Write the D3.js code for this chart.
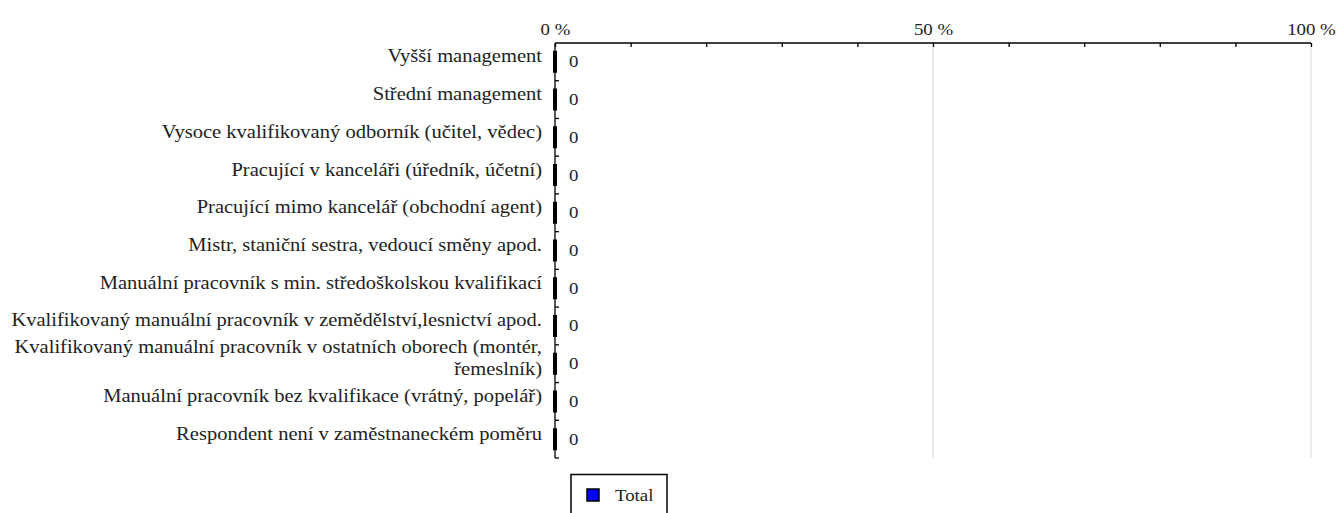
<!DOCTYPE html>
<html>
<head>
<meta charset="utf-8">
<script src="https://cdn.jsdelivr.net/npm/d3@7"></script>
<style>
  html, body { margin: 0; padding: 0; background: #fff; }
  svg { display: block; }
  text { font-family: "Liberation Serif", "DejaVu Serif", serif; fill: #222; }
</style>
</head>
<body>
<svg id="chart" width="1336" height="513"></svg>
<script>
const categories = [
  "Vyšší management",
  "Střední management",
  "Vysoce kvalifikovaný odborník (učitel, vědec)",
  "Pracující v kanceláři (úředník, účetní)",
  "Pracující mimo kancelář (obchodní agent)",
  "Mistr, staniční sestra, vedoucí směny apod.",
  "Manuální pracovník s min. středoškolskou kvalifikací",
  "Kvalifikovaný manuální pracovník v zemědělství,lesnictví apod.",
  "Kvalifikovaný manuální pracovník v ostatních oborech (montér,|řemeslník)",
  "Manuální pracovník bez kvalifikace (vrátný, popelář)",
  "Respondent není v zaměstnaneckém poměru"
];
const seriesName = "Total";
const totalValues = [0, 0, 0, 0, 0, 0, 0, 0, 0, 0, 0];
const xTickValues = [0, 10, 20, 30, 40, 50, 60, 70, 80, 90, 100];
const xTickLabels = ["0 %", "", "", "", "", "50 %", "", "", "", "", "100 %"];
const gridValues = [50, 100];

(function () {
const svg = d3.select("#chart");
const pL = 555, pR = 1311, pT = 43, pB = 458;

const x = d3.scaleLinear().domain([0, 100]).range([pL, pR]);
const y = d3.scaleBand().domain(categories).range([pT, pB]).paddingInner(0).paddingOuter(0);

const fs = 18;
const fsSmall = 16.5;
// horizontal scale so that the longest label spans ~531px
const probe = svg.append("text").attr("font-size", fs).text(categories[7]);
const w = probe.node().getComputedTextLength();
probe.remove();
const kx = Math.max(1, Math.min(1.2, 531 / w));

// grid
svg.append("g").selectAll("line").data(gridValues).join("line")
  .attr("x1", d => x(d)).attr("x2", d => x(d))
  .attr("y1", pT).attr("y2", pB)
  .attr("stroke", "#d9d9d9").attr("stroke-width", 1);

// top axis
const xAxis = d3.axisTop(x).tickValues(xTickValues).tickSize(-4).tickPadding(0)
  .tickFormat((d, i) => xTickLabels[i]);
const gx = svg.append("g").attr("transform", `translate(0,${pT})`).call(xAxis);
gx.select(".domain").attr("stroke", "#000").attr("stroke-width", 1.3).attr("d", `M${pL},0H${pR}`);
gx.selectAll(".tick line").attr("stroke", "#000").attr("stroke-width", 1.3);
gx.selectAll(".tick text").attr("font-family", "Liberation Serif, DejaVu Serif, serif")
  .attr("font-size", fsSmall).attr("fill", "#222").attr("y", -8)
  .attr("transform", `scale(${kx},1)`);

// left axis line and boundary ticks
const boundaries = categories.map(c => y(c)).slice(1).concat([pB]);
svg.append("line").attr("x1", pL).attr("x2", pL).attr("y1", pT).attr("y2", pB)
  .attr("stroke", "#000").attr("stroke-width", 1.3);
svg.append("g").selectAll("line").data(boundaries).join("line")
  .attr("x1", pL).attr("x2", pL + 4)
  .attr("y1", d => d).attr("y2", d => d)
  .attr("stroke", "#000").attr("stroke-width", 1.3);

// bars
const barH = 22;
svg.append("g").selectAll("path").data(totalValues).join("path")
  .attr("d", (d, i) => {
    const yc = y(categories[i]) + y.bandwidth() / 2;
    const y0 = yc - barH / 2, y1 = yc + barH / 2;
    return `M${x(0)},${y0}H${x(d)}V${y1}H${x(0)}Z`;
  })
  .attr("fill", "#0000ff").attr("stroke", "#000").attr("stroke-width", 4);

// value labels
svg.append("g").selectAll("text").data(totalValues).join("text")
  .attr("transform", (d, i) => `translate(${x(d) + 14},${y(categories[i]) + y.bandwidth() / 2 + 5.5}) scale(${kx},1)`)
  .attr("font-size", fsSmall)
  .text(d => d);

// category labels
const lineH = 22;
const lab = svg.append("g").selectAll("text").data(categories).join("text")
  .attr("text-anchor", "end")
  .attr("font-size", fs)
  .attr("transform", d => `translate(${pL - 13},${y(d) + y.bandwidth() / 2 + 0.5}) scale(${kx},1)`);
lab.each(function(d) {
  const lines = d.split("|");
  const t = d3.select(this);
  const n = lines.length;
  lines.forEach((ln, k) => {
    t.append("tspan").attr("x", 0)
      .attr("y", (k - (n - 1) / 2) * lineH)
      .text(ln);
  });
});

// legend
const lg = svg.append("g");
lg.append("rect").attr("x", 571).attr("y", 474.5).attr("width", 96).attr("height", 50)
  .attr("fill", "#fff").attr("stroke", "#000").attr("stroke-width", 1.5);
lg.append("rect").attr("x", 587).attr("y", 489).attr("width", 12).attr("height", 12)
  .attr("fill", "#0000ff").attr("stroke", "#000").attr("stroke-width", 1.5);
lg.append("text").attr("transform", `translate(615,501) scale(${kx},1)`)
  .attr("font-size", fsSmall).text(seriesName);
})();
</script>
</body>
</html>
